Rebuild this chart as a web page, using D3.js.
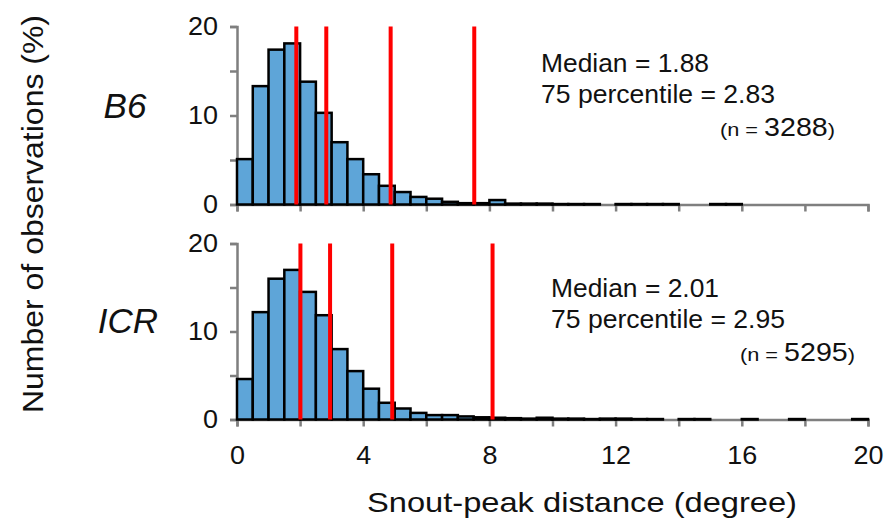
<!DOCTYPE html>
<html>
<head>
<meta charset="utf-8">
<script src="https://cdn.jsdelivr.net/npm/d3@7"></script>
<style>
  body { margin: 0; background: #fff; }
  text { font-family: "Liberation Sans", Arial, sans-serif; fill: #111; }
</style>
</head>
<body>
<div id="chart"></div>
<script>
// bins are 0.5 degree wide, 0..20
var binWidth = 0.5;
var b6Values = [5.1, 13.3, 17.4, 18.1, 13.8, 10.3, 7.0, 5.1, 3.4, 2.1, 1.4, 0.85, 0.65, 0.3, 0.15, 0.15,
                0.5, 0.1, 0.1, 0.1, 0.05, 0.05, 0.05, 0, 0.05, 0.05, 0.05, 0.05, 0, 0, 0.05, 0.05,
                0, 0, 0, 0, 0, 0, 0, 0];
var icrValues = [4.6, 12.2, 16.0, 17.0, 14.5, 11.85, 8.0, 5.5, 3.5, 1.9, 1.25, 0.75, 0.5, 0.5, 0.35, 0.25,
                 0.2, 0.15, 0.1, 0.2, 0.1, 0.1, 0.05, 0.1, 0.1, 0.05, 0.05, 0, 0.05, 0.05, 0, 0,
                 0.05, 0, 0, 0.05, 0, 0, 0, 0.05];
var b6Lines = [1.88, 2.83, 4.87, 7.52];
var icrLines = [2.01, 2.95, 4.92, 8.1];
var panelNames = ['B6', 'ICR'];
var medianLabels = ['Median = 1.88', 'Median = 2.01'];
var pctLabels = ['75 percentile = 2.83', '75 percentile = 2.95'];
var nLabels = ['3288', '5295'];
var xTicks = [0, 2, 4, 6, 8, 10, 12, 14, 16, 18, 20];
var yTicks = [0, 5, 10, 15, 20];

var width = 889, height = 530;
var svg = d3.select('#chart').append('svg')
  .attr('width', width)
  .attr('height', height);

var x = d3.scaleLinear().domain([0, 20]).range([237, 868]);

var panels = [
  { name: panelNames[0], values: b6Values, lines: b6Lines, top: 26.5, bottom: 204.5,
    median: medianLabels[0], pct: pctLabels[0], n: nLabels[0],
    nameX: 125, nameY: 118, tx: 541, ty: 72, nx: 720 },
  { name: panelNames[1], values: icrValues, lines: icrLines, top: 243.5, bottom: 419.5,
    median: medianLabels[1], pct: pctLabels[1], n: nLabels[1],
    nameX: 128, nameY: 333, tx: 551, ty: 297, nx: 740 }
];

var digitW = 15;  // px per digit in the reference tick labels

panels.forEach(function(p, i) {
  var y = d3.scaleLinear().domain([0, 20]).range([p.bottom, p.top]);
  var g = svg.append('g');

  // y axis
  var yAxis = d3.axisLeft(y).tickValues(yTicks).tickSize(7).tickPadding(12)
    .tickFormat(function(d) { return d % 10 === 0 ? d : ''; });
  var ya = g.append('g').attr('transform', 'translate(' + x(0) + ',0)').call(yAxis);

  // x axis
  var xAxis = d3.axisBottom(x).tickValues(xTicks).tickSize(7).tickPadding(20)
    .tickFormat(function(d) { return (i === 1 && d % 4 === 0) ? d : ''; });
  var xa = g.append('g').attr('transform', 'translate(0,' + y(0) + ')').call(xAxis);

  [ya, xa].forEach(function(a) {
    a.select('.domain').attr('stroke', '#7f7f7f').attr('stroke-width', 2.5);
    a.selectAll('.tick line').attr('stroke', '#7f7f7f').attr('stroke-width', 2.5);
    a.selectAll('.tick text')
      .style('font-size', '25px').attr('fill', '#111')
      .style('font-family', '"Liberation Sans", Arial, sans-serif')
      .each(function() {
        var t = d3.select(this), s = t.text();
        if (s) t.attr('textLength', s.length * digitW).attr('lengthAdjust', 'spacingAndGlyphs');
      });
  });

  // bars
  g.selectAll('rect.bar')
    .data(p.values.map(function(v, k) { return { x0: k * binWidth, v: v }; })
      .filter(function(d) { return d.v > 0; }))
    .enter().append('rect')
    .attr('class', 'bar')
    .attr('x', function(d) { return x(d.x0); })
    .attr('width', function(d) { return x(d.x0 + binWidth) - x(d.x0); })
    .attr('y', function(d) { return y(d.v); })
    .attr('height', function(d) { return y(0) - y(d.v); })
    .attr('fill', '#5ea5d8')
    .attr('stroke', '#000')
    .attr('stroke-width', 2.5);

  // red lines
  g.selectAll('line.mark')
    .data(p.lines)
    .enter().append('line')
    .attr('class', 'mark')
    .attr('x1', function(d) { return x(d); })
    .attr('x2', function(d) { return x(d); })
    .attr('y1', y(20))
    .attr('y2', y(0))
    .attr('stroke', '#ff0000')
    .attr('stroke-width', 4);

  // labels
  g.append('text')
    .attr('x', p.nameX).attr('y', p.nameY)
    .attr('text-anchor', 'middle')
    .style('font-size', '35px').style('font-style', 'italic')
    .text(p.name);

  g.append('text').attr('x', p.tx).attr('y', p.ty)
    .attr('textLength', 168).attr('lengthAdjust', 'spacingAndGlyphs')
    .style('font-size', '25px').text(p.median);
  g.append('text').attr('x', p.tx).attr('y', p.ty + 31)
    .attr('textLength', 234).attr('lengthAdjust', 'spacingAndGlyphs')
    .style('font-size', '25px').text(p.pct);

  var nt = g.append('text').attr('x', p.nx).attr('y', p.ty + 64)
    .attr('textLength', 115).attr('lengthAdjust', 'spacingAndGlyphs');
  nt.append('tspan').style('font-size', '19px').text('(n = ');
  nt.append('tspan').style('font-size', '25px').text(p.n);
  nt.append('tspan').style('font-size', '19px').text(')');
});

// axis titles
svg.append('text')
  .attr('transform', 'translate(43,' + 214 + ') rotate(-90)')
  .attr('text-anchor', 'middle')
  .attr('textLength', 398).attr('lengthAdjust', 'spacingAndGlyphs')
  .style('font-size', '29px')
  .text('Number of observations (%)');

svg.append('text')
  .attr('x', 582).attr('y', 512)
  .attr('text-anchor', 'middle')
  .attr('textLength', 430).attr('lengthAdjust', 'spacingAndGlyphs')
  .style('font-size', '28px')
  .text('Snout-peak distance (degree)');
</script>
</body>
</html>
